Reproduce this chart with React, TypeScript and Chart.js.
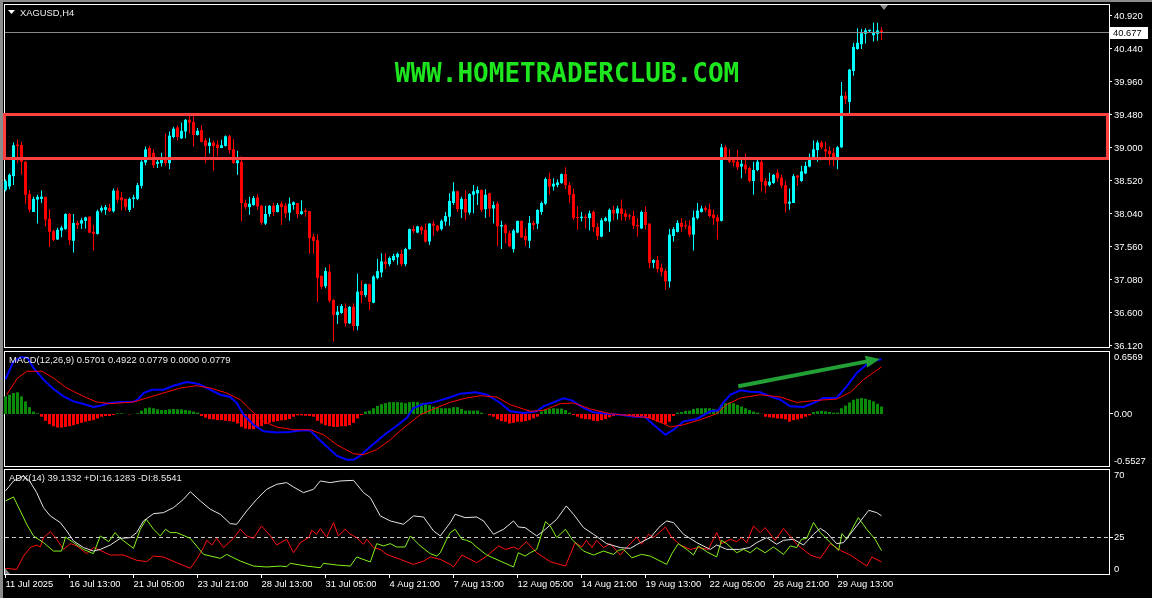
import React, { useEffect, useRef } from "react";
import { Chart, registerables } from "chart.js";

Chart.register(...registerables);

// ---------- texts ----------
const symbolTitle = "XAGUSD,H4";
const macdTitle = "MACD(12,26,9) 0.5701 0.4922 0.0779 0.0000 0.0779";
const adxTitle = "ADX(14) 39.1332 +DI:16.1283 -DI:8.5541";
const watermark = "WWW.HOMETRADERCLUB.COM";

// ---------- price candles (bar index 0..219) ----------
const opens = [
  38.39, 38.44, 38.59, 39.05, 39.04, 38.80, 38.33, 38.07, 38.25, 38.26,
  38.29, 37.97, 37.79, 37.67, 37.80, 37.82, 38.04, 37.65, 37.91, 37.90,
  37.94, 38.00, 37.78, 37.75, 38.09, 38.10, 38.13, 38.08, 38.38, 38.28,
  38.26, 38.10, 38.26, 38.26, 38.45, 38.79, 39.00, 38.93, 38.77, 38.78,
  38.83, 38.78, 39.16, 39.30, 39.14, 39.24, 39.41, 39.38, 39.19, 39.26,
  39.11, 39.03, 39.08, 39.05, 39.00, 39.03, 39.17, 38.98, 38.78, 38.80,
  38.20, 38.14, 38.17, 38.28, 38.16, 37.90, 38.04, 38.16, 38.07, 38.19,
  38.16, 38.06, 38.17, 38.20, 38.04, 38.09, 38.08, 37.71, 37.66, 37.14,
  36.99, 37.20, 36.79, 36.57, 36.60, 36.67, 36.45, 36.69, 36.41, 36.92,
  36.86, 37.02, 36.75, 37.11, 37.19, 37.35, 37.31, 37.37, 37.41, 37.46,
  37.31, 37.53, 37.82, 37.77, 37.85, 37.81, 37.64, 37.90, 37.87, 37.82,
  37.93, 38.00, 38.20, 38.37, 38.11, 38.26, 38.06, 38.32, 38.34, 38.39,
  38.11, 38.34, 38.12, 38.19, 37.86, 37.88, 37.76, 37.53, 37.77, 37.94,
  37.72, 37.65, 37.91, 37.90, 38.07, 38.19, 38.55, 38.44, 38.46, 38.49,
  38.62, 38.46, 38.33, 37.99, 37.98, 38.00, 37.98, 38.07, 37.85, 37.71,
  37.94, 37.93, 38.10, 38.05, 38.12, 38.05, 38.015, 38.01, 37.88, 37.83,
  38.07, 37.90, 37.33, 37.37, 37.26, 37.21, 37.06, 37.72, 37.78, 37.91,
  37.87, 37.87, 37.74, 37.98, 38.07, 38.13, 38.11, 38.03, 37.99, 37.94,
  39.01, 38.85, 38.82, 38.80, 38.73, 38.76, 38.71, 38.52, 38.68, 38.80,
  38.52, 38.46, 38.49, 38.64, 38.57, 38.46, 38.19, 38.20, 38.60, 38.52,
  38.63, 38.73, 38.87, 38.97, 39.08, 38.98, 38.96, 38.93, 38.85, 39.01,
  39.76, 39.67, 40.12, 40.44, 40.51, 40.66, 40.70, 40.64, 40.66, 40.71,
];
const highs = [
  38.54, 38.63, 39.08, 39.12, 39.09, 38.81, 38.39, 38.29, 38.32, 38.38,
  38.29, 38.11, 37.81, 37.84, 37.87, 38.05, 38.05, 38.04, 37.94, 37.98,
  38.00, 38.01, 37.88, 38.10, 38.16, 38.17, 38.19, 38.41, 38.42, 38.36,
  38.26, 38.28, 38.32, 38.49, 38.82, 39.02, 39.03, 38.98, 38.87, 38.93,
  39.21, 39.24, 39.31, 39.33, 39.37, 39.42, 39.47, 39.50, 39.29, 39.33,
  39.14, 39.14, 39.11, 39.11, 39.12, 39.18, 39.19, 39.13, 38.96, 38.88,
  38.25, 38.29, 38.30, 38.33, 38.17, 38.16, 38.17, 38.20, 38.20, 38.22,
  38.20, 38.28, 38.22, 38.20, 38.24, 38.12, 38.08, 37.75, 37.74, 37.15,
  37.26, 37.30, 36.80, 36.70, 36.73, 36.74, 36.70, 36.74, 37.17, 37.07,
  37.03, 37.03, 37.15, 37.39, 37.47, 37.47, 37.42, 37.46, 37.48, 37.52,
  37.55, 37.83, 37.87, 37.87, 37.87, 37.90, 37.91, 37.94, 37.88, 37.96,
  38.07, 38.34, 38.50, 38.38, 38.29, 38.38, 38.34, 38.46, 38.44, 38.40,
  38.40, 38.35, 38.22, 38.22, 37.94, 37.90, 37.80, 37.82, 37.94, 37.94,
  37.83, 38.01, 37.94, 38.11, 38.22, 38.57, 38.64, 38.56, 38.54, 38.63,
  38.72, 38.50, 38.41, 38.15, 38.07, 38.03, 38.09, 38.09, 37.91, 37.98,
  38.00, 38.12, 38.16, 38.16, 38.25, 38.10, 38.04, 38.09, 37.98, 38.09,
  38.15, 37.90, 37.38, 37.43, 37.32, 37.24, 37.82, 37.85, 37.95, 37.98,
  37.94, 37.95, 38.09, 38.20, 38.16, 38.16, 38.19, 38.10, 38.03, 39.06,
  39.04, 38.98, 38.87, 38.97, 38.84, 38.92, 38.73, 38.80, 38.83, 38.83,
  38.56, 38.64, 38.62, 38.69, 38.61, 38.52, 38.41, 38.62, 38.60, 38.74,
  38.80, 38.92, 39.11, 39.11, 39.11, 39.09, 39.02, 39.00, 39.03, 39.96,
  39.82, 40.15, 40.53, 40.74, 40.73, 40.74, 40.72, 40.82, 40.82, 40.76,
];
const lows = [
  38.37, 38.40, 38.46, 38.78, 38.61, 38.19, 38.06, 38.07, 37.90, 38.20,
  37.86, 37.56, 37.65, 37.66, 37.70, 37.81, 37.59, 37.48, 37.82, 37.82,
  37.83, 37.76, 37.51, 37.74, 38.06, 38.03, 38.07, 38.06, 38.20, 38.09,
  38.09, 38.07, 38.13, 38.24, 38.41, 38.75, 38.83, 38.71, 38.71, 38.73,
  38.74, 38.69, 39.14, 39.11, 39.13, 39.14, 39.21, 39.02, 39.18, 39.08,
  38.78, 38.92, 38.67, 38.88, 39.00, 39.02, 38.92, 38.77, 38.61, 37.93,
  38.11, 38.03, 38.16, 38.10, 37.88, 37.88, 38.00, 38.01, 38.06, 37.88,
  37.98, 37.94, 38.10, 37.98, 38.03, 38.00, 37.46, 37.46, 36.76, 36.95,
  36.96, 36.75, 36.18, 36.44, 36.59, 36.40, 36.44, 36.34, 36.35, 36.74,
  36.83, 36.64, 36.74, 37.09, 37.12, 37.24, 37.28, 37.35, 37.30, 37.28,
  37.28, 37.52, 37.76, 37.76, 37.74, 37.62, 37.59, 37.72, 37.78, 37.80,
  37.87, 37.87, 38.17, 38.07, 37.98, 37.95, 38.03, 38.05, 38.17, 38.07,
  37.98, 38.00, 37.90, 37.57, 37.53, 37.61, 37.56, 37.48, 37.76, 37.69,
  37.57, 37.54, 37.81, 37.82, 38.03, 38.17, 38.32, 38.38, 38.43, 38.48,
  38.40, 38.20, 37.95, 37.81, 37.93, 37.83, 37.80, 37.78, 37.66, 37.70,
  37.93, 37.78, 37.95, 37.96, 37.94, 37.94, 37.96, 37.82, 37.71, 37.82,
  37.81, 37.25, 37.25, 37.19, 37.13, 36.94, 36.97, 37.64, 37.77, 37.78,
  37.82, 37.71, 37.51, 37.96, 38.06, 38.07, 37.99, 37.88, 37.67, 37.93,
  38.82, 38.78, 38.73, 38.68, 38.56, 38.63, 38.50, 38.32, 38.66, 38.37,
  38.34, 38.44, 38.48, 38.51, 38.41, 38.06, 38.10, 38.20, 38.45, 38.51,
  38.62, 38.72, 38.85, 38.80, 38.98, 38.85, 38.75, 38.73, 38.69, 39.00,
  39.64, 39.51, 40.05, 40.43, 40.44, 40.52, 40.68, 40.55, 40.56, 40.57,
];
const closes = [
  38.52, 38.61, 39.04, 39.03, 38.80, 38.32, 38.10, 38.26, 38.29, 38.29,
  37.96, 37.78, 37.66, 37.81, 37.84, 38.04, 37.66, 37.91, 37.88, 37.95,
  37.99, 37.77, 37.75, 38.08, 38.13, 38.14, 38.08, 38.38, 38.25, 38.24,
  38.14, 38.26, 38.28, 38.46, 38.80, 38.98, 38.87, 38.75, 38.80, 38.83,
  38.78, 39.18, 39.28, 39.16, 39.25, 39.41, 39.37, 39.19, 39.25, 39.09,
  39.03, 39.08, 39.03, 39.00, 39.04, 39.17, 38.97, 38.78, 38.82, 38.20,
  38.14, 38.19, 38.27, 38.15, 37.91, 38.04, 38.16, 38.07, 38.17, 38.14,
  38.05, 38.19, 38.21, 38.04, 38.08, 38.07, 37.69, 37.65, 37.11, 36.98,
  37.21, 36.78, 36.57, 36.62, 36.70, 36.45, 36.69, 36.41, 36.91, 36.86,
  37.02, 36.76, 37.13, 37.21, 37.35, 37.31, 37.40, 37.43, 37.46, 37.31,
  37.53, 37.82, 37.79, 37.86, 37.80, 37.64, 37.90, 37.87, 37.80, 37.94,
  38.01, 38.23, 38.37, 38.11, 38.26, 38.06, 38.33, 38.37, 38.39, 38.10,
  38.32, 38.12, 38.17, 37.86, 37.88, 37.76, 37.57, 37.80, 37.94, 37.70,
  37.66, 37.91, 37.88, 38.10, 38.20, 38.55, 38.44, 38.48, 38.50, 38.62,
  38.46, 38.32, 37.98, 37.98, 38.00, 37.98, 38.05, 37.85, 37.72, 37.95,
  37.98, 38.10, 38.05, 38.12, 38.04, 38.00, 38.005, 37.87, 37.86, 38.07,
  37.88, 37.33, 37.37, 37.24, 37.20, 37.06, 37.74, 37.82, 37.91, 37.85,
  37.86, 37.74, 37.99, 38.09, 38.12, 38.10, 38.01, 37.98, 37.93, 39.01,
  38.83, 38.80, 38.79, 38.72, 38.77, 38.69, 38.52, 38.68, 38.80, 38.51,
  38.45, 38.51, 38.61, 38.56, 38.45, 38.19, 38.22, 38.59, 38.57, 38.66,
  38.74, 38.87, 38.98, 39.08, 39.01, 38.95, 38.91, 38.85, 39.01, 39.76,
  39.71, 40.14, 40.47, 40.53, 40.67, 40.71, 40.72, 40.69, 40.71, 40.677,
];

const priceTicks = [40.92, 40.44, 39.96, 39.48, 39.0, 38.52, 38.04, 37.56, 37.08, 36.6, 36.12];
const lastPrice = 40.677;
const zoneTop = 39.48;
const zoneBottom = 38.84;
const zoneStartBar = -0.3;
const zoneEndBar = 275.4;

// ---------- time axis ----------
const timeTickBars = [0, 16, 32, 48, 64, 80, 96, 112, 128, 144, 160, 176, 192, 208];
const timeLabels = [
  "11 Jul 2025", "16 Jul 13:00", "21 Jul 05:00", "23 Jul 21:00", "28 Jul 13:00",
  "31 Jul 05:00", "4 Aug 21:00", "7 Aug 13:00", "12 Aug 05:00", "14 Aug 21:00",
  "19 Aug 13:00", "22 Aug 05:00", "26 Aug 21:00", "29 Aug 13:00",
];

// ---------- MACD ----------
const macdHist = [
  0.184, 0.201, 0.219, 0.226, 0.184, 0.131, 0.071, 0.025, 0.007, -0.028,
  -0.071, -0.106, -0.127, -0.141, -0.141, -0.134, -0.127, -0.117, -0.106, -0.092,
  -0.081, -0.071, -0.064, -0.046, -0.028, -0.021, -0.021, -0.011, 0.007, 0.007,
  0.002, -0.004, 0.002, 0.007, 0.035, 0.060, 0.067, 0.060, 0.049, 0.042,
  0.042, 0.049, 0.053, 0.049, 0.049, 0.042, 0.035, 0.025, 0.014, -0.021,
  -0.039, -0.053, -0.056, -0.064, -0.064, -0.071, -0.074, -0.081, -0.099, -0.134,
  -0.152, -0.159, -0.159, -0.141, -0.127, -0.106, -0.092, -0.081, -0.074, -0.067,
  -0.064, -0.053, -0.028, -0.014, -0.014, -0.018, -0.021, -0.028, -0.071, -0.099,
  -0.117, -0.127, -0.134, -0.134, -0.127, -0.127, -0.117, -0.092, -0.046, -0.011,
  0.025, 0.035, 0.060, 0.085, 0.102, 0.113, 0.124, 0.124, 0.124, 0.120,
  0.113, 0.124, 0.127, 0.124, 0.113, 0.102, 0.092, 0.078, 0.071, 0.060,
  0.060, 0.060, 0.071, 0.071, 0.053, 0.035, 0.035, 0.035, 0.035, 0.014,
  0.002, -0.014, -0.028, -0.056, -0.074, -0.081, -0.099, -0.092, -0.081, -0.081,
  -0.074, -0.064, -0.046, -0.028, 0.025, 0.049, 0.056, 0.060, 0.056, 0.056,
  0.042, 0.014, -0.011, -0.028, -0.046, -0.053, -0.056, -0.071, -0.074, -0.064,
  -0.053, -0.035, -0.021, -0.007, -0.011, -0.014, -0.018, -0.028, -0.035, -0.035,
  -0.039, -0.046, -0.064, -0.081, -0.092, -0.106, -0.081, -0.021, 0.014, 0.021,
  0.032, 0.035, 0.053, 0.060, 0.060, 0.060, 0.060, 0.053, 0.042, 0.095,
  0.113, 0.120, 0.113, 0.095, 0.078, 0.060, 0.042, 0.025, 0.014, 0.002,
  -0.028, -0.035, -0.039, -0.046, -0.049, -0.056, -0.081, -0.064, -0.056, -0.046,
  -0.028, -0.014, 0.021, 0.028, 0.032, 0.028, 0.021, 0.014, 0.014, 0.060,
  0.088, 0.120, 0.148, 0.159, 0.166, 0.159, 0.148, 0.131, 0.106, 0.078,
];
const macdMainX = [
  0, 2, 4, 5.5, 7, 9.5, 12, 14.5, 17, 19.5, 22, 23.7, 26, 28.7, 32, 33, 34.5, 36.6, 39.5, 42,
  45.3, 47, 48.7, 51.2, 53.7, 56.2, 57.8, 59.5, 62, 64.5, 67.8, 71, 73.7, 76.2, 77.8, 80.3, 82.8, 85.3, 87, 88.7,
  90.3, 92.8, 95.3, 97.8, 100.3, 102, 104.5, 107, 111.2, 113.7, 117.5, 120.4, 123.7, 126.2, 129.5, 132.8, 134.5, 137, 139.5, 141.6,
  144.5, 147, 150.4, 153.7, 157, 160, 162, 165, 167, 169.5, 172.8, 176.2, 178.2, 179.5, 181.2, 183.7, 186.2, 188.7, 191.2, 193.7,
  196.2, 199.5, 202, 204.5, 207.8, 210.3, 212.8, 216.2, 219,
];
const macdMainY = [
  0.365, 0.549, 0.594, 0.585, 0.48, 0.358, 0.261, 0.184, 0.131, 0.104, 0.073, 0.087, 0.115, 0.125, 0.128, 0.149, 0.219, 0.253, 0.253, 0.295,
  0.333, 0.323, 0.306, 0.253, 0.201, 0.177, 0.115, -0.007, -0.112, -0.181, -0.192, -0.188, -0.171, -0.171, -0.24, -0.338, -0.435, -0.477, -0.477, -0.435,
  -0.372, -0.285, -0.198, -0.122, -0.042, 0.063, 0.104, 0.121, 0.175, 0.212, 0.226, 0.201, 0.115, 0.028, 0.010, 0.028, 0.08, 0.121, 0.163, 0.142,
  0.063, 0.017, 0.003, -0.007, -0.025, -0.035, -0.112, -0.216, -0.164, -0.077, -0.052, 0.028, 0.038, 0.121, 0.201, 0.247, 0.233, 0.226, 0.184, 0.149,
  0.08, 0.073, 0.115, 0.167, 0.167, 0.288, 0.427, 0.549, 0.570,
];
const macdSignalX = [
  0.3, 3, 5.4, 9.1, 12, 15.3, 19.5, 22.8, 26.2, 32, 35.3, 39.5, 43.7, 47.8, 51.2, 55.3, 58.7, 61.2, 64.5, 67.8,
  72, 76.2, 79.5, 82.8, 87, 89.5, 92.8, 96.2, 99.5, 103.7, 107, 111.2, 115.3, 118.7, 122.8, 126.2, 131.2, 134.5, 138.7, 142,
  146.2, 151.2, 156.2, 161.2, 164.5, 166.2, 169.5, 173.7, 177.8, 180.3, 183.7, 188.7, 193.7, 197.8, 202.8, 207.8, 211.2, 214.5, 219,
];
const macdSignalY = [
  0.201, 0.375, 0.445, 0.445, 0.375, 0.271, 0.184, 0.125, 0.108, 0.125, 0.167, 0.219, 0.271, 0.295, 0.271, 0.219, 0.149, 0.045, -0.077, -0.136,
  -0.164, -0.164, -0.216, -0.32, -0.414, -0.424, -0.372, -0.268, -0.147, -0.007, 0.052, 0.123, 0.167, 0.191, 0.177, 0.097, 0.028, 0.038, 0.108, 0.115,
  0.052, 0.003, -0.018, -0.042, -0.1, -0.136, -0.112, -0.059, 0.003, 0.097, 0.167, 0.201, 0.177, 0.121, 0.142, 0.156, 0.226, 0.358, 0.492,
];
const macdMax = 0.6569;
const macdMin = -0.5527;
const macdTicks = [0.6569, 0, -0.5527];
const macdTickLabels = ["0.6569", "0.00", "-0.5527"];
const arrowFrom = [183.2, 0.29];
const arrowTo = [218.6, 0.574];

// ---------- ADX ----------
const adxX = [
  0, 2, 4.5, 6, 7.8, 9.5, 11.2, 13.7, 15.3, 17, 19.5, 22, 23.7, 26.2, 28.7, 31.2, 32.8, 34.5, 37, 39.5,
  42, 44.5, 46.2, 48.7, 51.2, 53.7, 56.2, 57.8, 60.3, 62.8, 65.3, 67.8, 70.3, 72, 74.5, 77, 78.7, 81.2, 83.7, 87,
  89.5, 91.2, 93.7, 96.2, 99.5, 102, 104.5, 107, 108.7, 111.2, 112.4, 114.9, 117.8, 119.5, 122, 124.5, 127, 128.2, 129.9, 132.8,
  134.5, 137.8, 140.2, 142, 144.5, 147, 150.3, 153.7, 156.2, 158.7, 161.2, 163.7, 165.3, 167, 169.5, 172.8, 176.2, 177.8, 180.3, 183.5,
  186, 187.8, 190.3, 192.8, 194.5, 197, 199.5, 202, 203.7, 205.3, 207.8, 209.5, 212.8, 215.8, 217.8, 219,
];
const adxY = [
  55.5, 62.1, 65.4, 62.1, 54.4, 44.5, 39.0, 34.6, 29.1, 22.5, 18.1, 15.8, 16.9, 19.8, 24.2, 24.7, 28.0, 35.7, 40.5, 41.2,
  44.5, 50.0, 55.0, 48.9, 43.4, 40.1, 33.9, 33.5, 42.3, 50.0, 56.6, 59.9, 61.0, 58.1, 54.4, 56.6, 62.1, 61.0, 62.1, 62.5,
  54.4, 51.1, 39.0, 35.7, 33.5, 39.0, 38.3, 29.1, 25.8, 34.6, 40.1, 37.9, 38.3, 35.7, 26.9, 30.2, 35.7, 31.7, 31.3, 25.8,
  29.1, 36.8, 45.6, 40.1, 31.3, 26.9, 20.7, 18.1, 17.6, 21.4, 24.7, 32.4, 35.7, 34.6, 26.9, 21.4, 16.9, 19.8, 16.9, 16.9,
  18.1, 21.4, 24.7, 20.3, 22.9, 23.6, 19.8, 26.9, 30.8, 28.0, 20.7, 21.4, 32.4, 42.7, 41.2, 39.1,
];
const plusDiX = [
  0, 2, 3.7, 5.3, 7, 9.5, 12, 14, 15, 17, 19.5, 22, 23.7, 25.8, 27.4, 28.7, 32, 33.7, 35.2, 37,
  38.7, 40, 41.2, 42.8, 46.2, 49.5, 53.7, 55.3, 58.7, 62, 65.3, 68.7, 70.3, 71.2, 75.3, 78.7, 79.5, 82.8, 86.2, 87.8,
  91.2, 92.8, 94.5, 96.2, 97.8, 99.9, 101.2, 103.7, 106.2, 107.8, 108.7, 110.3, 111.2, 112.4, 114.1, 115.3, 116.6, 117.4, 120.3, 123.7,
  127, 128.2, 129.9, 131.2, 132.8, 135, 136.2, 137.8, 140, 141.6, 144.5, 147, 149.5, 152, 153.2, 154.5, 156.6, 159, 161.2, 165.3,
  166.6, 168.2, 170.3, 172, 173.2, 175.3, 177.8, 179, 180.3, 182.8, 184.5, 186.2, 187.8, 189.9, 192, 194.5, 196.2, 197.8, 199, 200.3,
  202, 203.7, 206.2, 208.3, 209.1, 210.3, 213.2, 215.3, 217.4, 219,
];
const plusDiY = [
  48.9, 51.5, 42.3, 33.5, 25.8, 21.4, 15.8, 15.8, 25.1, 21.4, 16.9, 14.1, 25.8, 22.0, 28.0, 24.2, 17.6, 30.2, 36.8, 30.2,
  25.8, 30.2, 28.0, 28.0, 24.2, 13.6, 11.0, 13.6, 9.2, 5.9, 5.3, 5.9, 5.5, 7.7, 5.9, 4.8, 7.7, 6.6, 5.9, 11.9,
  8.6, 20.7, 19.2, 20.7, 18.5, 18.5, 25.8, 19.2, 14.1, 12.5, 14.7, 23.6, 28.0, 30.2, 23.6, 22.9, 21.4, 19.2, 13.2, 9.2,
  5.3, 14.7, 12.5, 14.7, 16.9, 35.2, 32.4, 24.7, 30.2, 23.6, 15.8, 13.2, 15.8, 13.6, 16.3, 16.9, 11.4, 13.6, 12.5, 7.0,
  14.1, 20.7, 16.9, 13.2, 19.2, 15.4, 11.9, 22.9, 20.7, 14.7, 16.9, 14.7, 18.1, 14.7, 18.5, 13.6, 19.2, 18.1, 23.6, 24.2,
  34.6, 28.0, 21.4, 16.3, 27.3, 23.6, 37.9, 30.2, 23.6, 16.1,
];
const minusDiX = [
  0, 2.8, 4.5, 6.2, 7.8, 8.7, 9.5, 11.2, 12.8, 14.5, 16.2, 17.8, 20.3, 22, 23.7, 26.2, 29.5, 32.8, 35.3, 37,
  39.5, 42.8, 46.2, 47.8, 49.5, 50.3, 51.6, 52.8, 54.5, 57, 58.7, 60.3, 62, 64, 66.2, 67.8, 70.3, 72, 73.7, 75.8,
  76.6, 77.8, 78.7, 80.3, 82, 83.2, 84.9, 86.2, 87.8, 89.5, 90.3, 92, 93.7, 95.3, 98.7, 102, 104.5, 106.2, 108.7, 111.2,
  112, 114.1, 117.8, 120.3, 123.3, 125, 127, 128.2, 130.2, 132.8, 136.2, 140, 142.4, 144.1, 145.2, 146.6, 147.8, 149.5, 151.2, 153.7,
  155.3, 157.8, 159, 160.8, 162, 165, 166.6, 168.7, 171.2, 173.2, 175.7, 177.8, 179, 181.2, 182.8, 184, 185.3, 187, 188.7, 189.9,
  192.4, 194.5, 197.8, 201.2, 203.7, 206.2, 208.7, 211.2, 215.3, 216.6, 219,
];
const minusDiY = [
  4.4, 3.7, 12.5, 18.1, 19.8, 18.5, 24.7, 28.6, 23.6, 16.9, 20.7, 19.2, 14.1, 18.1, 16.3, 13.2, 13.2, 9.7, 8.8, 12.5,
  11.9, 8.1, 4.4, 10.3, 18.1, 22.9, 19.8, 24.2, 18.1, 24.2, 30.2, 25.8, 24.2, 32.4, 25.8, 19.8, 23.6, 14.7, 21.4, 24.7,
  29.5, 26.9, 30.6, 25.1, 34.6, 25.8, 30.2, 26.9, 24.7, 20.3, 23.6, 18.1, 16.9, 13.6, 10.3, 7.0, 9.2, 11.9, 10.3, 7.0,
  5.3, 13.2, 8.1, 12.5, 19.2, 16.9, 18.5, 16.9, 22.0, 14.7, 8.8, 5.9, 21.4, 18.5, 22.9, 18.1, 22.9, 18.1, 20.7, 13.2,
  18.1, 25.1, 20.3, 26.9, 24.7, 31.7, 24.7, 19.8, 16.9, 18.1, 16.9, 28.0, 20.7, 23.6, 22.0, 24.7, 21.4, 32.4, 28.0, 31.3,
  22.9, 30.8, 20.3, 13.2, 11.0, 20.7, 16.3, 13.2, 5.9, 11.9, 8.6,
];
const adxMax = 70;
const adxMin = 0;
const adxTicks = [70, 25, 0];
const adxTickLabels = ["70", "25", "0"];
const adxLevel = 25;

// ---------- layout / style ----------
const W = 1152;
const AXIS_W = 43;
const XMIN = -0.375;
const XMAX = 275.875;
const MAIN_YMAX = 41.0945;
const MAIN_YMIN = 36.0909;
const FONT = "'Liberation Sans', Arial, sans-serif";
const FS = 9.4;
const BULL = "#00ffff";
const BEAR = "#ff0000";
const HIST_UP = "#0a8c0a";
const HIST_DN = "#ff0000";

const crisp = (v: number) => Math.floor(v) + 0.5;

function drawFrame(chart: any) {
  const { ctx, chartArea: a } = chart;
  ctx.save();
  ctx.strokeStyle = "#ffffff";
  ctx.lineWidth = 1;
  ctx.strokeRect(a.left + 0.5, a.top + 0.5, a.right - a.left, a.bottom - a.top - 1);
  ctx.restore();
}

function drawTitle(chart: any, text: string, dx: number) {
  const { ctx, chartArea: a } = chart;
  ctx.save();
  ctx.fillStyle = "#ececec";
  ctx.font = `${FS}px ${FONT}`;
  ctx.textAlign = "left";
  ctx.textBaseline = "middle";
  ctx.fillText(text, a.left + dx, a.top + 9);
  ctx.restore();
}

function drawSideLabels(chart: any, ticks: number[], labels: string[]) {
  const { ctx, chartArea: a, scales } = chart;
  const ys = scales.y;
  ctx.save();
  ctx.fillStyle = "#ffffff";
  ctx.strokeStyle = "#ffffff";
  ctx.lineWidth = 1;
  ctx.font = `${FS}px ${FONT}`;
  ctx.textAlign = "left";
  ticks.forEach((v, i) => {
    const y = ys.getPixelForValue(v);
    let ty = y;
    if (i === 0) {
      ctx.textBaseline = "top";
      ty = y + 2;
    } else if (i === ticks.length - 1) {
      ctx.textBaseline = "bottom";
      ty = y - 1;
    } else {
      ctx.textBaseline = "middle";
      ctx.beginPath();
      ctx.moveTo(a.right + 1, crisp(y));
      ctx.lineTo(a.right + 4, crisp(y));
      ctx.stroke();
    }
    ctx.fillText(labels[i], a.right + 5, ty);
  });
  ctx.restore();
}

const hiddenX = { type: "linear", min: XMIN, max: XMAX, display: false, offset: false, bounds: "data" };

const mainOverlay = {
  id: "mainOverlay",
  beforeDatasetsDraw(chart: any) {
    drawFrame(chart);
  },
  afterDatasetsDraw(chart: any) {
    const { ctx, chartArea: a, scales } = chart;
    const xs = scales.x;
    const ys = scales.y;
    ctx.save();
    // current price line
    const py = crisp(ys.getPixelForValue(lastPrice));
    ctx.strokeStyle = "#8a8a8a";
    ctx.lineWidth = 1;
    ctx.beginPath();
    ctx.moveTo(a.left + 1, py);
    ctx.lineTo(a.right, py);
    ctx.stroke();
    // resistance / support zone
    const zx1 = Math.round(xs.getPixelForValue(zoneStartBar)) + 0.5;
    const zx2 = Math.round(xs.getPixelForValue(zoneEndBar)) + 0.5;
    const zy1 = crisp(ys.getPixelForValue(zoneTop));
    const zy2 = crisp(ys.getPixelForValue(zoneBottom));
    ctx.strokeStyle = "#ff4040";
    ctx.lineWidth = 3;
    ctx.strokeRect(zx1, zy1, zx2 - zx1, zy2 - zy1);
    // watermark
    ctx.fillStyle = "#1ee61e";
    ctx.font = "bold 26px 'DejaVu Sans Mono', monospace";
    ctx.textAlign = "center";
    ctx.textBaseline = "middle";
    ctx.fillText(watermark, 567, 75);
    // chart shift marker
    const sx = xs.getPixelForValue(opens.length - 1) + 2.5;
    ctx.fillStyle = "#8c8c8c";
    ctx.beginPath();
    ctx.moveTo(sx - 4, a.top + 1);
    ctx.lineTo(sx + 4, a.top + 1);
    ctx.lineTo(sx, a.top + 6);
    ctx.closePath();
    ctx.fill();
    // title with triangle
    ctx.fillStyle = "#ffffff";
    ctx.beginPath();
    ctx.moveTo(a.left + 4, a.top + 6);
    ctx.lineTo(a.left + 11, a.top + 6);
    ctx.lineTo(a.left + 7.5, a.top + 10);
    ctx.closePath();
    ctx.fill();
    ctx.restore();
    drawTitle(chart, symbolTitle, 16);
  },
  afterDraw(chart: any) {
    const { ctx, chartArea: a, scales } = chart;
    const py = scales.y.getPixelForValue(lastPrice);
    ctx.save();
    ctx.fillStyle = "#ffffff";
    ctx.fillRect(a.right + 1, Math.round(py) - 6, 38, 12);
    ctx.fillStyle = "#000000";
    ctx.font = `${FS}px ${FONT}`;
    ctx.textAlign = "left";
    ctx.textBaseline = "middle";
    ctx.fillText(lastPrice.toFixed(3), a.right + 4, Math.round(py) + 0.5);
    ctx.restore();
  },
};

const macdOverlay = {
  id: "macdOverlay",
  beforeDatasetsDraw(chart: any) {
    drawFrame(chart);
  },
  afterDatasetsDraw(chart: any) {
    const { ctx, scales } = chart;
    const xs = scales.x;
    const ys = scales.y;
    const x1 = xs.getPixelForValue(arrowFrom[0]);
    const y1 = ys.getPixelForValue(arrowFrom[1]);
    const x2 = xs.getPixelForValue(arrowTo[0]);
    const y2 = ys.getPixelForValue(arrowTo[1]);
    const ang = Math.atan2(y2 - y1, x2 - x1);
    const c = Math.cos(ang);
    const s = Math.sin(ang);
    const headLen = 14;
    const headW = 6;
    const bx = x2 - headLen * c;
    const by = y2 - headLen * s;
    ctx.save();
    ctx.strokeStyle = "#22a036";
    ctx.fillStyle = "#22a036";
    ctx.lineWidth = 4;
    ctx.beginPath();
    ctx.moveTo(x1, y1);
    ctx.lineTo(bx + c, by + s);
    ctx.stroke();
    ctx.beginPath();
    ctx.moveTo(x2, y2);
    ctx.lineTo(bx + headW * s, by - headW * c);
    ctx.lineTo(bx - headW * s, by + headW * c);
    ctx.closePath();
    ctx.fill();
    ctx.restore();
  },
  afterDraw(chart: any) {
    drawTitle(chart, macdTitle, 5);
    drawSideLabels(chart, macdTicks, macdTickLabels);
  },
};

const adxOverlay = {
  id: "adxOverlay",
  beforeDatasetsDraw(chart: any) {
    drawFrame(chart);
    const { ctx, chartArea: a, scales } = chart;
    const y = crisp(scales.y.getPixelForValue(adxLevel));
    ctx.save();
    ctx.strokeStyle = "#c8c8c8";
    ctx.lineWidth = 1;
    ctx.setLineDash([4, 3]);
    ctx.beginPath();
    ctx.moveTo(a.left + 1, y);
    ctx.lineTo(a.right - 1, y);
    ctx.stroke();
    ctx.setLineDash([]);
    // small scroll marker at lower-left
    ctx.fillStyle = "#8c8c8c";
    ctx.beginPath();
    ctx.moveTo(a.left + 1, a.bottom - 7);
    ctx.lineTo(a.left + 1, a.bottom - 1);
    ctx.lineTo(a.left + 6, a.bottom - 1);
    ctx.closePath();
    ctx.fill();
    ctx.restore();
  },
  afterDraw(chart: any) {
    drawTitle(chart, adxTitle, 5);
    drawSideLabels(chart, adxTicks, adxTickLabels);
  },
};

const baseOptions = (padding: any) => ({
  responsive: false,
  animation: false,
  devicePixelRatio: 1,
  events: [],
  layout: { padding },
  plugins: { legend: { display: false }, tooltip: { enabled: false } },
});

const sideAxis = (min: number, max: number) => ({
  type: "linear",
  position: "right",
  min,
  max,
  bounds: "data",
  afterFit: (s: any) => {
    s.width = AXIS_W;
    s.paddingTop = 0;
    s.paddingBottom = 0;
  },
  ticks: { display: false },
  grid: { display: false },
  border: { display: false },
});

export default function App() {
  const mainRef = useRef<HTMLCanvasElement | null>(null);
  const macdRef = useRef<HTMLCanvasElement | null>(null);
  const adxRef = useRef<HTMLCanvasElement | null>(null);

  useEffect(() => {
    const idx = opens.map((_, i) => i);
    const candleColors = idx.map((i) => (closes[i] >= opens[i] ? BULL : BEAR));
    const bodyData = idx.map((i) => ({ x: i, y: [Math.min(opens[i], closes[i]), Math.max(opens[i], closes[i])] }));
    const wickData = idx.map((i) => ({ x: i, y: [lows[i], highs[i]] }));

    const mainChart = new Chart(mainRef.current as any, {
      type: "bar",
      data: {
        datasets: [
          {
            data: bodyData,
            backgroundColor: candleColors,
            barThickness: 3,
            grouped: false,
            minBarLength: 1,
            borderWidth: 0,
            inflateAmount: 0,
            order: 0,
          },
          {
            data: wickData,
            backgroundColor: candleColors,
            barThickness: 1,
            grouped: false,
            borderWidth: 0,
            inflateAmount: 0,
            order: 1,
          },
        ],
      } as any,
      options: {
        ...baseOptions({ left: 4, top: 4, right: 0, bottom: 1 }),
        scales: {
          x: hiddenX,
          y: {
            type: "linear",
            position: "right",
            min: MAIN_YMIN,
            max: MAIN_YMAX,
            bounds: "data",
            afterBuildTicks: (s: any) => {
              s.ticks = priceTicks.map((v) => ({ value: v }));
            },
            afterFit: (s: any) => {
              s.width = AXIS_W;
              s.paddingTop = 0;
              s.paddingBottom = 0;
            },
            ticks: {
              autoSkip: false,
              color: "#ffffff",
              padding: 2,
              font: { family: FONT, size: FS },
              callback: (v: any) => Number(v).toFixed(3),
            },
            grid: { display: true, drawOnChartArea: false, drawTicks: true, tickLength: 3, color: "#ffffff" },
            border: { display: false },
          },
        },
      } as any,
      plugins: [mainOverlay],
    } as any);

    const histData = idx.map((i) => ({ x: i, y: macdHist[i] }));
    const histColors = idx.map((i) => (macdHist[i] >= 0 ? HIST_UP : HIST_DN));
    const mainPts = macdMainX.map((x, j) => ({ x, y: macdMainY[j] }));
    const sigPts = macdSignalX.map((x, j) => ({ x, y: macdSignalY[j] }));

    const macdChart = new Chart(macdRef.current as any, {
      type: "bar",
      data: {
        datasets: [
          { type: "line", data: sigPts, borderColor: "#ff0000", borderWidth: 1, pointRadius: 0, tension: 0, order: 0 },
          { type: "line", data: mainPts, borderColor: "#0000ff", borderWidth: 2, pointRadius: 0, tension: 0, order: 1 },
          {
            type: "bar",
            data: histData,
            backgroundColor: histColors,
            barThickness: 3,
            grouped: false,
            borderWidth: 0,
            inflateAmount: 0,
            order: 2,
          },
        ],
      } as any,
      options: {
        ...baseOptions({ left: 4, top: 1, right: 0, bottom: 1 }),
        scales: { x: hiddenX, y: sideAxis(macdMin, macdMax) },
      } as any,
      plugins: [macdOverlay],
    } as any);

    const adxPts = adxX.map((x, j) => ({ x, y: adxY[j] }));
    const pdiPts = plusDiX.map((x, j) => ({ x, y: plusDiY[j] }));
    const mdiPts = minusDiX.map((x, j) => ({ x, y: minusDiY[j] }));

    const adxChart = new Chart(adxRef.current as any, {
      type: "line",
      data: {
        datasets: [
          { data: adxPts, borderColor: "#e4e4e4", borderWidth: 1, pointRadius: 0, tension: 0, order: 0 },
          { data: pdiPts, borderColor: "#84f21a", borderWidth: 1, pointRadius: 0, tension: 0, order: 1 },
          { data: mdiPts, borderColor: "#ff1010", borderWidth: 1, pointRadius: 0, tension: 0, order: 2 },
        ],
      } as any,
      options: {
        ...baseOptions({ left: 4, top: 1, right: 0, bottom: 0 }),
        scales: {
          x: {
            type: "linear",
            min: XMIN,
            max: XMAX,
            offset: false,
            bounds: "data",
            afterBuildTicks: (s: any) => {
              s.ticks = timeTickBars.map((v) => ({ value: v }));
            },
            afterFit: (s: any) => {
              s.height = 23;
              s.paddingLeft = 0;
              s.paddingRight = 0;
            },
            ticks: {
              autoSkip: false,
              maxRotation: 0,
              minRotation: 0,
              align: "start",
              padding: 1,
              color: "#ffffff",
              font: { family: FONT, size: FS },
              callback: (_v: any, i: number) => timeLabels[i] ?? "",
            },
            grid: { display: true, drawOnChartArea: false, drawTicks: true, tickLength: 3, color: "#ffffff", offset: false },
            border: { display: false },
          },
          y: sideAxis(adxMin, adxMax),
        },
      } as any,
      plugins: [adxOverlay],
    } as any);

    return () => {
      mainChart.destroy();
      macdChart.destroy();
      adxChart.destroy();
    };
  }, []);

  return (
    <div
      style={{
        position: "absolute",
        left: 0,
        top: 0,
        width: W,
        height: 598,
        background: "#000000",
        overflow: "hidden",
      }}
    >
      <div style={{ position: "absolute", left: 0, top: 0, width: 3, height: 598, background: "#8c8c8c" }} />
      <div style={{ position: "absolute", left: 0, top: 0, width: W, height: 2, background: "#8c8c8c" }} />
      <canvas ref={mainRef} width={W} height={349} style={{ position: "absolute", left: 0, top: 0, display: "block" }} />
      <canvas ref={macdRef} width={W} height={118} style={{ position: "absolute", left: 0, top: 350, display: "block" }} />
      <canvas ref={adxRef} width={W} height={130} style={{ position: "absolute", left: 0, top: 468, display: "block" }} />
    </div>
  );
}
